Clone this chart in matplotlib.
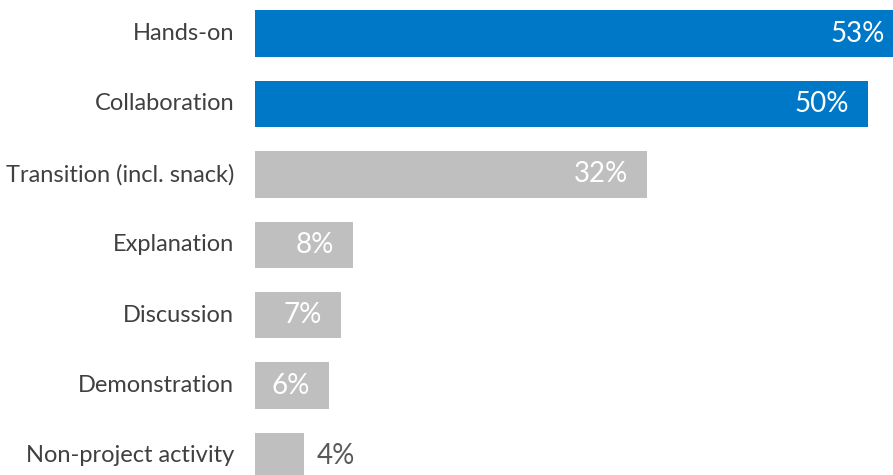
import matplotlib.pyplot as plt
import numpy as np

## -----------------------------------------------------------------------------
## Share of time by activity type, horizontal bars
## -----------------------------------------------------------------------------

plt.rcParams["font.family"] = ["Lato", "DejaVu Sans"]

categories = ["Hands-on", "Collaboration", "Transition (incl. snack)", "Explanation",
              "Discussion", "Demonstration", "Non-project activity"]
values = [53, 50, 32, 8, 7, 6, 4]
highlight = [True, True, False, False, False, False, False]

blue = "#0078C8"
grey = "#BFBFBF"

fig = plt.figure(figsize=(8.93, 4.75), dpi=100)
ax = fig.add_axes([255/893, 0, 638/893, 1])

y = np.arange(len(categories))
colors = [blue if h else grey for h in highlight]
ax.barh(y, values, height=0.66, color=colors)

ax.set_xlim(0, 638/12.25)
ax.set_ylim(6.27, -0.476)
ax.axis("off")

for i, (cat, v) in enumerate(zip(categories, values)):
    ax.annotate(cat, xy=(0, i), xytext=(-21, 0), textcoords="offset pixels",
                ha="right", va="center", fontsize=17, color="#404040",
                annotation_clip=False)
    if v >= 6:
        ax.annotate(f"{v}%", xy=(v, i), xytext=(-19, 0), textcoords="offset pixels",
                    ha="right", va="center", fontsize=20, color="white",
                    annotation_clip=False)
    else:
        ax.annotate(f"{v}%", xy=(v, i), xytext=(13, 0), textcoords="offset pixels",
                    ha="left", va="center", fontsize=20, color="#595959",
                    annotation_clip=False)

plt.savefig("out.png", dpi=100)
